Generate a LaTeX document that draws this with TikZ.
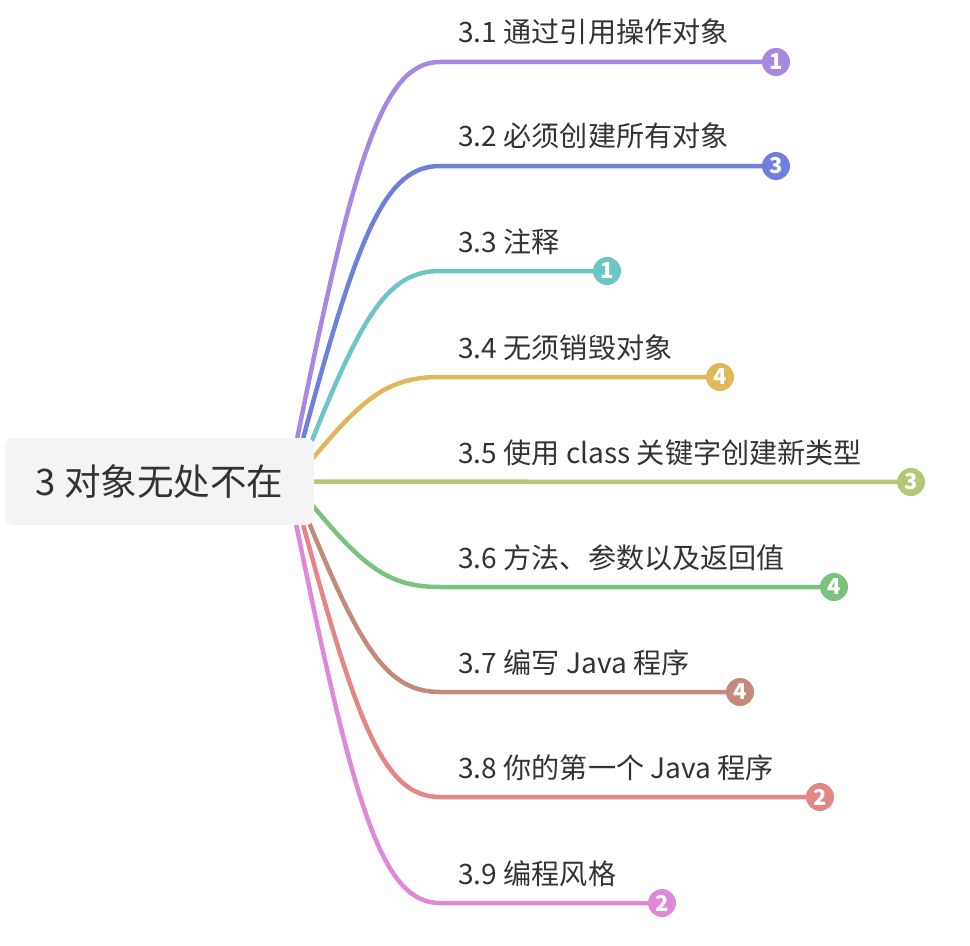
\documentclass[tikz,border=0pt]{standalone}
\usepackage{fontspec}
\setmainfont{Noto Sans CJK SC}
\usetikzlibrary{calc,backgrounds}
\definecolor{txt}{HTML}{333333}
\definecolor{rootbg}{HTML}{F4F4F4}
\definecolor{cA}{HTML}{A688E0}
\definecolor{cB}{HTML}{6E80DB}
\definecolor{cC}{HTML}{6DC6C3}
\definecolor{cD}{HTML}{E2B75A}
\definecolor{cE}{HTML}{B4C978}
\definecolor{cF}{HTML}{79C37F}
\definecolor{cG}{HTML}{C3897A}
\definecolor{cH}{HTML}{E68585}
\definecolor{cI}{HTML}{E088D8}

\begin{document}
\begin{tikzpicture}[x=0.02cm,y=-0.02cm,
  rootbox/.style={fill=rootbg,rounded corners=8*0.02cm,minimum width=309*0.02cm,minimum height=87*0.02cm,inner sep=0,text=txt,font=\fontsize{20.8}{24}\selectfont},
  lbl/.style={anchor=base west,inner sep=0,text=txt,font=\fontsize{16}{19}\selectfont},
  badge/.style={circle,fill=#1,minimum size=28*0.02cm,inner sep=0,text=white,font=\fontsize{12.5}{12.5}\selectfont\bfseries},
  br/.style={draw=#1,line width=4.5*0.02cm,line cap=round}]
\useasboundingbox (0,0) rectangle (970,946);

\node[rootbox] (root) at (159.5,481.5) {3 对象无处不在};

\node[lbl] (t1) at (458,43) {3.1 通过引用操作对象};
\node[lbl] (t2) at (458,147) {3.2 必须创建所有对象};
\node[lbl] (t3) at (458,252) {3.3 注释};
\node[lbl] (t4) at (458,358) {3.4 无须销毁对象};
\node[lbl] (t5) at (458,463) {3.5 使用 class 关键字创建新类型};
\node[lbl] (t6) at (458,568) {3.6 方法、参数以及返回值};
\node[lbl] (t7) at (458,673) {3.7 编写 Java 程序};
\node[lbl] (t8) at (458,778) {3.8 你的第一个 Java 程序};
\node[lbl] (t9) at (458,884) {3.9 编程风格};

\node[badge=cA] (k1) at (776,62) {1};
\node[badge=cB] (k2) at (776,166) {3};
\node[badge=cC] (k3) at (607,271) {1};
\node[badge=cD] (k4) at (720,377) {4};
\node[badge=cE] (k5) at (911,482) {3};
\node[badge=cF] (k6) at (834,587) {4};
\node[badge=cG] (k7) at (740,692) {4};
\node[badge=cH] (k8) at (820,797) {2};
\node[badge=cI] (k9) at (662,903) {2};

\coordinate (s1) at ($(root.north east)+(-17,0)$);
\coordinate (s2) at ($(root.north east)+(-11,0)$);
\coordinate (s3) at ($(root.north east)+(-2,2)$);
\coordinate (s4) at ($(root.north east)+(-1,20)$);
\coordinate (s6) at ($(root.south east)+(-1,-19)$);
\coordinate (s7) at ($(root.south east)+(-5,-2)$);
\coordinate (s8) at ($(root.south east)+(-11,0)$);
\coordinate (s9) at ($(root.south east)+(-18,0)$);
\coordinate (b1) at (440,62);
\coordinate (b2) at (440,166);
\coordinate (b3) at (440,271);
\coordinate (b4) at (440,377);
\coordinate (b6) at (440,587);
\coordinate (b7) at (440,692);
\coordinate (b8) at (440,797);
\coordinate (b9) at (440,903);

\begin{scope}[on background layer]
\draw[br=cA] (s1) .. controls +(57,-282) and +(-57,0) .. (b1) -- (k1.center);
\draw[br=cB] (s2) .. controls +(55,-204) and +(-55,0) .. (b2) -- (k2.center);
\draw[br=cC] (s3) .. controls +(51,-127) and +(-51,0) .. (b3) -- (k3.center);
\draw[br=cD] (s4) .. controls +(51,-61) and +(-51,0) .. (b4) -- (k4.center);
\draw[br=cE] (root.center) -- (k5.center);
\draw[br=cF] (s6) .. controls +(51,61) and +(-51,0) .. (b6) -- (k6.center);
\draw[br=cG] (s7) .. controls +(52,127) and +(-52,0) .. (b7) -- (k7.center);
\draw[br=cH] (s8) .. controls +(55,204) and +(-55,0) .. (b8) -- (k8.center);
\draw[br=cI] (s9) .. controls +(58,283) and +(-58,0) .. (b9) -- (k9.center);
\end{scope}
\end{tikzpicture}
\end{document}
